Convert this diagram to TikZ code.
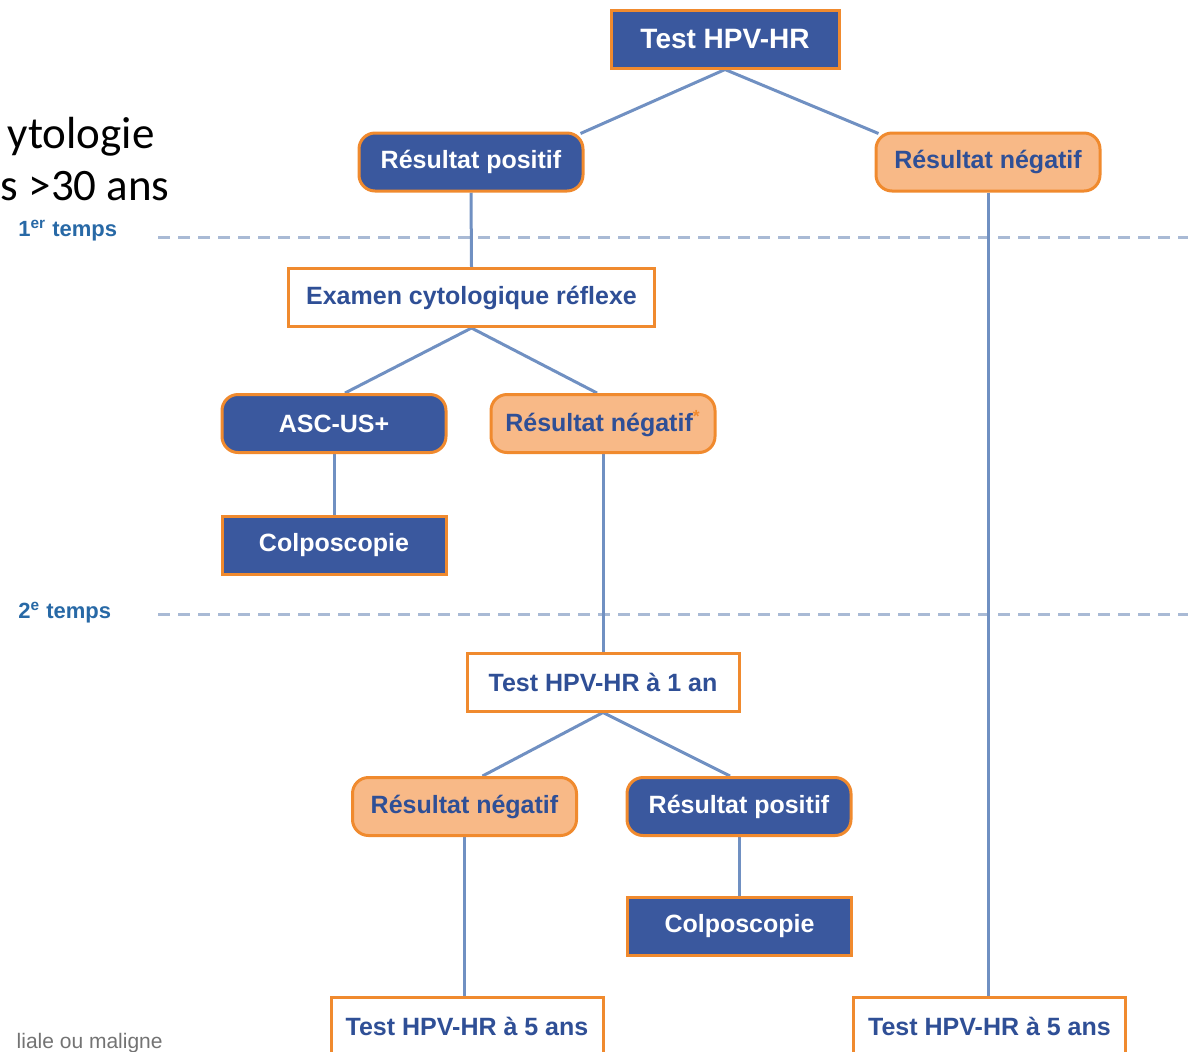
\documentclass[tikz,border=0pt]{standalone}
\usepackage{fontspec}
\setmainfont{Liberation Sans}
\newfontfamily\slidefont{Carlito}
\usetikzlibrary{positioning,backgrounds,calc}
\definecolor{hpvblue}{HTML}{3A589E}
\definecolor{hpvtext}{HTML}{2F4F96}
\definecolor{hpvorange}{HTML}{F08A2E}
\definecolor{hpvpeach}{HTML}{F8B987}
\definecolor{hpvline}{HTML}{7090C2}
\definecolor{hpvdash}{HTML}{A9BAD5}
\tikzset{
  box/.style = {draw=hpvorange, line width=1.5pt, minimum width=112pt, minimum height=29pt, inner sep=0pt, align=center, font=\bfseries\fontsize{12.5}{15}\selectfont},
  bluebox/.style = {box, fill=hpvblue, text=white},
  bluestate/.style = {bluebox, rounded corners=8pt},
  peachstate/.style = {box, rounded corners=8pt, fill=hpvpeach, text=hpvtext},
  whitebox/.style = {box, fill=white, text=hpvtext},
  link/.style = {draw=hpvline, line width=1.5pt},
  timeline/.style = {draw=hpvdash, line width=1.5pt, dash pattern=on 6pt off 4pt},
  timelabel/.style = {text=hpvtext!85!cyan, font=\bfseries\fontsize{11}{13}\selectfont, anchor=west, inner sep=0pt}
  }

\begin{document}
\begin{tikzpicture}[x=0.5pt,y=-0.5pt]
\useasboundingbox (0,0) rectangle (1188,1051);
\clip (0,0) rectangle (1188,1051);

% slide text cut at the left edge
\node[anchor=base east, inner sep=0pt, font=\slidefont\fontsize{22.5}{27}\selectfont] (title1) at (155,148) {ytologie};
\node[anchor=base east, inner sep=0pt, font=\slidefont\fontsize{22.5}{27}\selectfont] (title2) at (170,200) {s >30 ans};
\node[anchor=base east, inner sep=0pt, text=black!55, font=\fontsize{10.5}{12}\selectfont] (note) at (163,1048) {liale ou maligne};

% time steps
\node[timelabel] (step1) at (18,231) {1\textsuperscript{er} temps};
\node[timelabel] (step2) at (18,613) {2\textsuperscript{e} temps};
\coordinate (step1start) at (158,237);
\coordinate (step1end) at (1188,237);
\coordinate (step2start) at (158,614);
\coordinate (step2end) at (1188,614);

% boxes
\node[bluebox, minimum width=114pt] (top) at (725,39) {\fontsize{14}{16}\selectfont Test HPV-HR};
\node[bluestate] (pos1) at (471,162) {Résultat positif};
\node[peachstate] (neg1) at (988,162) {Résultat négatif};
\node[whitebox, minimum width=183pt] (exam) at (471.5,297.5) {Examen cytologique réflexe};
\node[bluestate] (asc) at (334,423.5) {ASC-US+};
\node[peachstate] (neg2) at (603,423.5) {Résultat négatif\textsuperscript{\color{hpvorange}*}};
\node[bluebox] (colpo1) at (334,545.5) {Colposcopie};
\node[whitebox, minimum width=136pt] (t1an) at (603,682) {Test HPV-HR à 1 an};
\node[peachstate] (neg3) at (464.5,806.5) {Résultat négatif};
\node[bluestate] (pos3) at (739,806.5) {Résultat positif};
\node[bluebox] (colpo2) at (739.5,926.5) {Colposcopie};
\node[whitebox, minimum width=136pt] (t5a) at (467,1026) {Test HPV-HR à 5 ans};
\node[whitebox, minimum width=136pt] (t5b) at (989.5,1026) {Test HPV-HR à 5 ans};

\begin{scope}[on background layer]
\draw[timeline] (step1start) -- (step1end);
\draw[timeline] (step2start) -- (step2end);

\draw[link] (top.south) -- ([xshift=-2pt,yshift=-1pt]pos1.north east);
\draw[link] (top.south) -- ([xshift=2pt,yshift=-1pt]neg1.north west);
\draw[link] (pos1.south) -- (exam.north);
\draw[link] (neg1.south) -- (neg1.south |- t5b.north);
\draw[link] (exam.south) -- ([xshift=5.5pt]asc.north);
\draw[link] (exam.south) -- ([xshift=-3pt]neg2.north);
\draw[link] (asc.south) -- (colpo1.north);
\draw[link] (neg2.south) -- (t1an.north);
\draw[link] (t1an.south) -- ([xshift=9pt]neg3.north);
\draw[link] (t1an.south) -- ([xshift=-4.5pt]pos3.north);
\draw[link] (neg3.south) -- (neg3.south |- t5a.north);
\draw[link] (pos3.south) -- (pos3.south |- colpo2.north);
\end{scope}
\end{tikzpicture}
\end{document}
